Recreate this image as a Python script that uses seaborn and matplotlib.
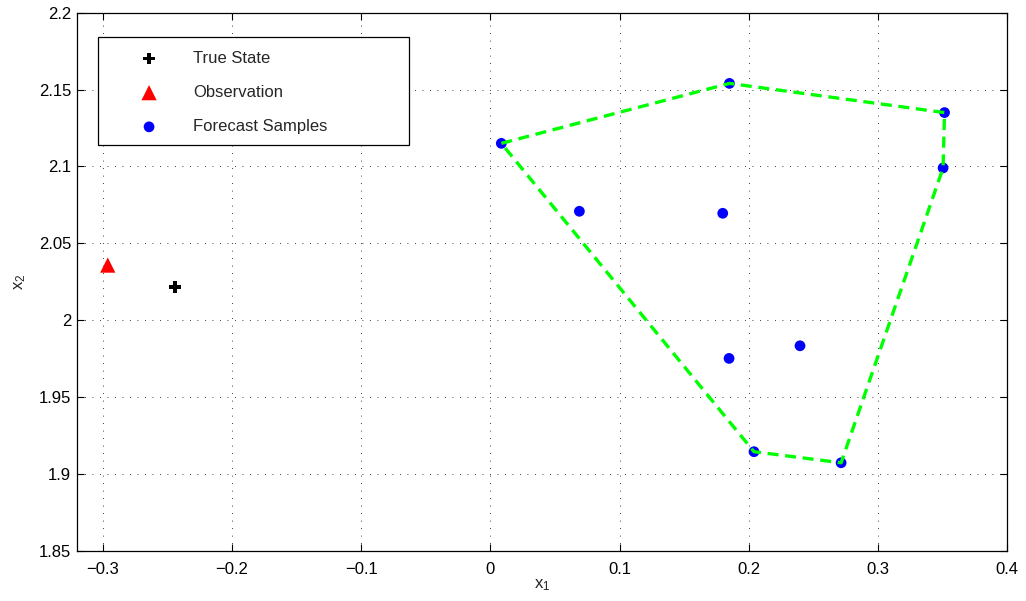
import numpy as np
import pandas as pd
import matplotlib
matplotlib.use("Agg")
import matplotlib.pyplot as plt
import seaborn as sns
from matplotlib.patches import Rectangle

# ---------------- data ----------------
true_x = [-0.244]
true_y = [2.0217]
obs_x = [-0.296]
obs_y = [2.0358]
samples_x = [0.0085, 0.185, 0.3514, 0.3503, 0.0689, 0.1798, 0.1847, 0.2396, 0.2040, 0.2714]
samples_y = [2.1150, 2.1540, 2.1350, 2.0990, 2.0708, 2.0695, 1.9751, 1.9833, 1.9144, 1.9072]
hull_idx = [0, 1, 2, 3, 9, 8, 0]

x_ticks = [-0.3, -0.2, -0.1, 0, 0.1, 0.2, 0.3, 0.4]
x_ticklabels = ["\u22120.3", "\u22120.2", "\u22120.1", "0", "0.1", "0.2", "0.3", "0.4"]
y_ticks = [1.85, 1.9, 1.95, 2.0, 2.05, 2.1, 2.15, 2.2]
y_ticklabels = ["1.85", "1.9", "1.95", "2", "2.05", "2.1", "2.15", "2.2"]

labels = ["True State", "Observation", "Forecast Samples"]

# ---------------- style ----------------
sns.set_style("white")
plt.rcParams["font.family"] = ["Liberation Sans", "DejaVu Sans"]
plt.rcParams["mathtext.default"] = "regular"

fig = plt.figure(figsize=(10.26, 6.01), dpi=100)
ax = fig.add_axes([0.0748, 0.0837, 0.9070, 0.8952])

samples = pd.DataFrame({"x": samples_x, "y": samples_y})
hull = samples.iloc[hull_idx].reset_index(drop=True)

sns.scatterplot(x=true_x, y=true_y, marker="P", s=70, color="black",
                edgecolor="none", label=labels[0], ax=ax, zorder=3)
sns.scatterplot(x=obs_x, y=obs_y, marker="^", s=120, color="#ff0000",
                edgecolor="none", label=labels[1], ax=ax, zorder=3)
sns.scatterplot(data=samples, x="x", y="y", marker="o", s=60, color="#0000ff",
                edgecolor="none", label=labels[2], ax=ax, zorder=3)
sns.lineplot(data=hull, x="x", y="y", sort=False, estimator=None,
             color="#00ff00", linewidth=2.4, linestyle=(0, (3.3, 2.0)),
             ax=ax, zorder=4, legend=False)

ax.set_xlim(-0.32, 0.4)
ax.set_ylim(1.85, 2.2)
ax.set_xticks(x_ticks)
ax.set_xticklabels(x_ticklabels)
ax.set_yticks(y_ticks)
ax.set_yticklabels(y_ticklabels)

ax.grid(True, color="black", linewidth=0.6, linestyle=(0, (1, 8)))
ax.set_axisbelow(True)

for sp in ax.spines.values():
    sp.set_visible(True)
    sp.set_color("black")
    sp.set_linewidth(0.9)

ax.tick_params(axis="both", direction="in", length=5, width=0.8, colors="black",
               labelsize=12, top=True, right=True, bottom=True, left=True)
ax.tick_params(axis="x", pad=8)
ax.tick_params(axis="y", pad=4)

ax.set_xlabel("$x_1$", fontsize=12, labelpad=0)
ax.set_ylabel("$x_2$", fontsize=12, labelpad=8)

# legend box (MATLAB style, wide frame)
rect = Rectangle((0.0229, 0.7535), 0.3341, 0.2019, transform=ax.transAxes,
                 facecolor="white", edgecolor="black", linewidth=0.9, zorder=5)
ax.add_patch(rect)
leg = ax.legend(loc="upper left", bbox_to_anchor=(0.0598, 0.929),
                frameon=False, fontsize=12, borderpad=0, borderaxespad=0,
                handlelength=2.0, handletextpad=1.64, labelspacing=1.15,
                scatterpoints=1)
leg.set_zorder(6)

fig.savefig("out.png", dpi=100)
